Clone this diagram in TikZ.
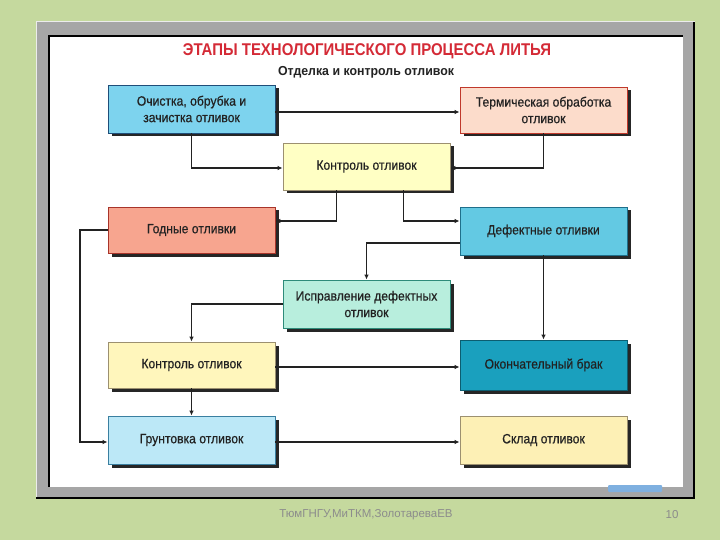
\documentclass[tikz,border=0pt]{standalone}
\usepackage{fontspec}
\setmainfont{Liberation Sans}
\newfontfamily\boxfont[FakeStretch=0.9,FakeBold=0.6]{Liberation Sans}
\newfontfamily\subfont[FakeStretch=0.95]{Liberation Sans}
\newfontfamily\titlefont[FakeStretch=0.88]{Liberation Sans}
\usetikzlibrary{arrows.meta,shadows}
\definecolor{bg}{HTML}{C5D99E}
\definecolor{frameg}{HTML}{A6A6A6}
\definecolor{titred}{HTML}{D42A36}
\definecolor{ink}{HTML}{222222}
\definecolor{cA}{HTML}{7DD3EE}\definecolor{bA}{HTML}{1F4E79}
\definecolor{cB}{HTML}{FCDCCB}\definecolor{bB}{HTML}{C0392B}
\definecolor{cC}{HTML}{FFFFC4}\definecolor{bC}{HTML}{9C9070}
\definecolor{cD}{HTML}{F7A58F}\definecolor{bD}{HTML}{A8342A}
\definecolor{cE}{HTML}{63C9E3}\definecolor{bE}{HTML}{1F6F8B}
\definecolor{cF}{HTML}{B8EEDD}\definecolor{bF}{HTML}{2E8B7A}
\definecolor{cG}{HTML}{FFF6BC}\definecolor{bG}{HTML}{9C9070}
\definecolor{cH}{HTML}{1AA0BE}\definecolor{bH}{HTML}{0C5D70}
\definecolor{cI}{HTML}{BCE8F7}\definecolor{bI}{HTML}{3A7FA0}
\definecolor{cJ}{HTML}{FDF0B5}\definecolor{bJ}{HTML}{9C9070}
\definecolor{navb}{HTML}{7FB0E0}
\begin{document}
\begin{tikzpicture}[x=1pt,y=-1pt,
  box/.style={draw, line width=0.8pt, minimum width=167pt, minimum height=47pt,
    align=center, inner sep=2pt, text=ink,
    font=\boxfont\fontsize{13.5}{16.5}\selectfont,
    drop shadow={shadow xshift=3.5pt,shadow yshift=-3.5pt,fill=black!85,opacity=1}},
  arr/.style={line width=1.3pt, draw=ink, -{Latex[length=5pt,width=4.5pt]}}]
\useasboundingbox (0,0) rectangle (720,540);
\fill[bg] (0,0) rectangle (720,540);
% frame
\fill[frameg] (36,22) rectangle (695,499);
\draw[white!85!gray, line width=1pt] (36,499) -- (36,22) -- (695,22);
\draw[black, line width=2.5pt] (694,22) -- (694,498) -- (36,498);
\fill[white] (49,36) rectangle (683,487);
\draw[black, line width=2pt] (49,487) -- (49,36) -- (683,36);
\fill[navb, rounded corners=1pt] (608,485) rectangle (662,492);
% titles
\node[text=titred, font=\titlefont\bfseries\fontsize{17}{17}\selectfont] (title) at (367,51) {ЭТАПЫ ТЕХНОЛОГИЧЕСКОГО ПРОЦЕССА ЛИТЬЯ};
\node[text=ink, font=\subfont\bfseries\fontsize{13}{13}\selectfont] (sub) at (366,72) {Отделка и контроль отливок};
% boxes
\node[box, fill=cA, draw=bA, minimum height=48pt] (b1) at (191.5,109) {Очистка, обрубка и\\зачистка отливок};
\node[box, fill=cB, draw=bB, minimum height=46pt] (b2) at (543.5,110) {Термическая обработка\\отливок};
\node[box, fill=cC, draw=bC] (b3) at (366.5,166.5) {Контроль отливок};
\node[box, fill=cD, draw=bD, minimum height=46pt] (b4) at (191.5,230) {Годные отливки};
\node[box, fill=cE, draw=bE, minimum height=48pt] (b5) at (543.5,231) {Дефектные отливки};
\node[box, fill=cF, draw=bF, minimum height=48pt] (b6) at (366.5,304) {Исправление дефектных\\отливок};
\node[box, fill=cG, draw=bG, minimum height=46pt] (b7) at (191.5,365) {Контроль отливок};
\node[box, fill=cH, draw=bH, minimum height=50pt] (b8) at (543.5,365) {Окончательный брак};
\node[box, fill=cI, draw=bI, minimum height=48pt] (b9) at (191.5,440) {Грунтовка отливок};
\node[box, fill=cJ, draw=bJ, minimum height=48pt] (b10) at (543.5,440) {Склад отливок};
% connectors
\draw[arr] ([yshift=-3pt]b1.east) -- ([yshift=-3pt]b1.east -| b2.west);
\draw[arr] (b1.south) |- ([yshift=-1.5pt]b3.west);
\draw[arr] (b2.south) |- ([yshift=-1.5pt]b3.east);
\draw[arr] ([xshift=-30pt]b3.south) |- ([yshift=9pt]b4.east);
\draw[arr] ([xshift=37pt]b3.south) |- ([yshift=10pt]b5.west);
\draw[arr] ([yshift=-12pt]b5.west) -| (b6.north);
\draw[arr] (b5.south) -- (b8.north);
\draw[arr] (b6.west) -| (b7.north);
\draw[arr] ([yshift=-2pt]b7.east) -- ([yshift=-2pt]b7.east -| b8.west);
\draw[arr] (b7.south) -- (b9.north);
\draw[arr] ([yshift=-2pt]b9.east) -- ([yshift=-2pt]b9.east -| b10.west);
\coordinate (lt) at (80,230);
\draw[arr] (b4.west) -- (lt) |- ([yshift=-2pt]b9.west);
% footer
\node[text=black!45, font=\fontsize{11.5}{13}\selectfont] (foot) at (366,515) {ТюмГНГУ,МиТКМ,ЗолотареваЕВ};
\node[text=black!45, font=\fontsize{11.5}{13}\selectfont] (pg) at (672,515) {10};
\end{tikzpicture}
\end{document}
